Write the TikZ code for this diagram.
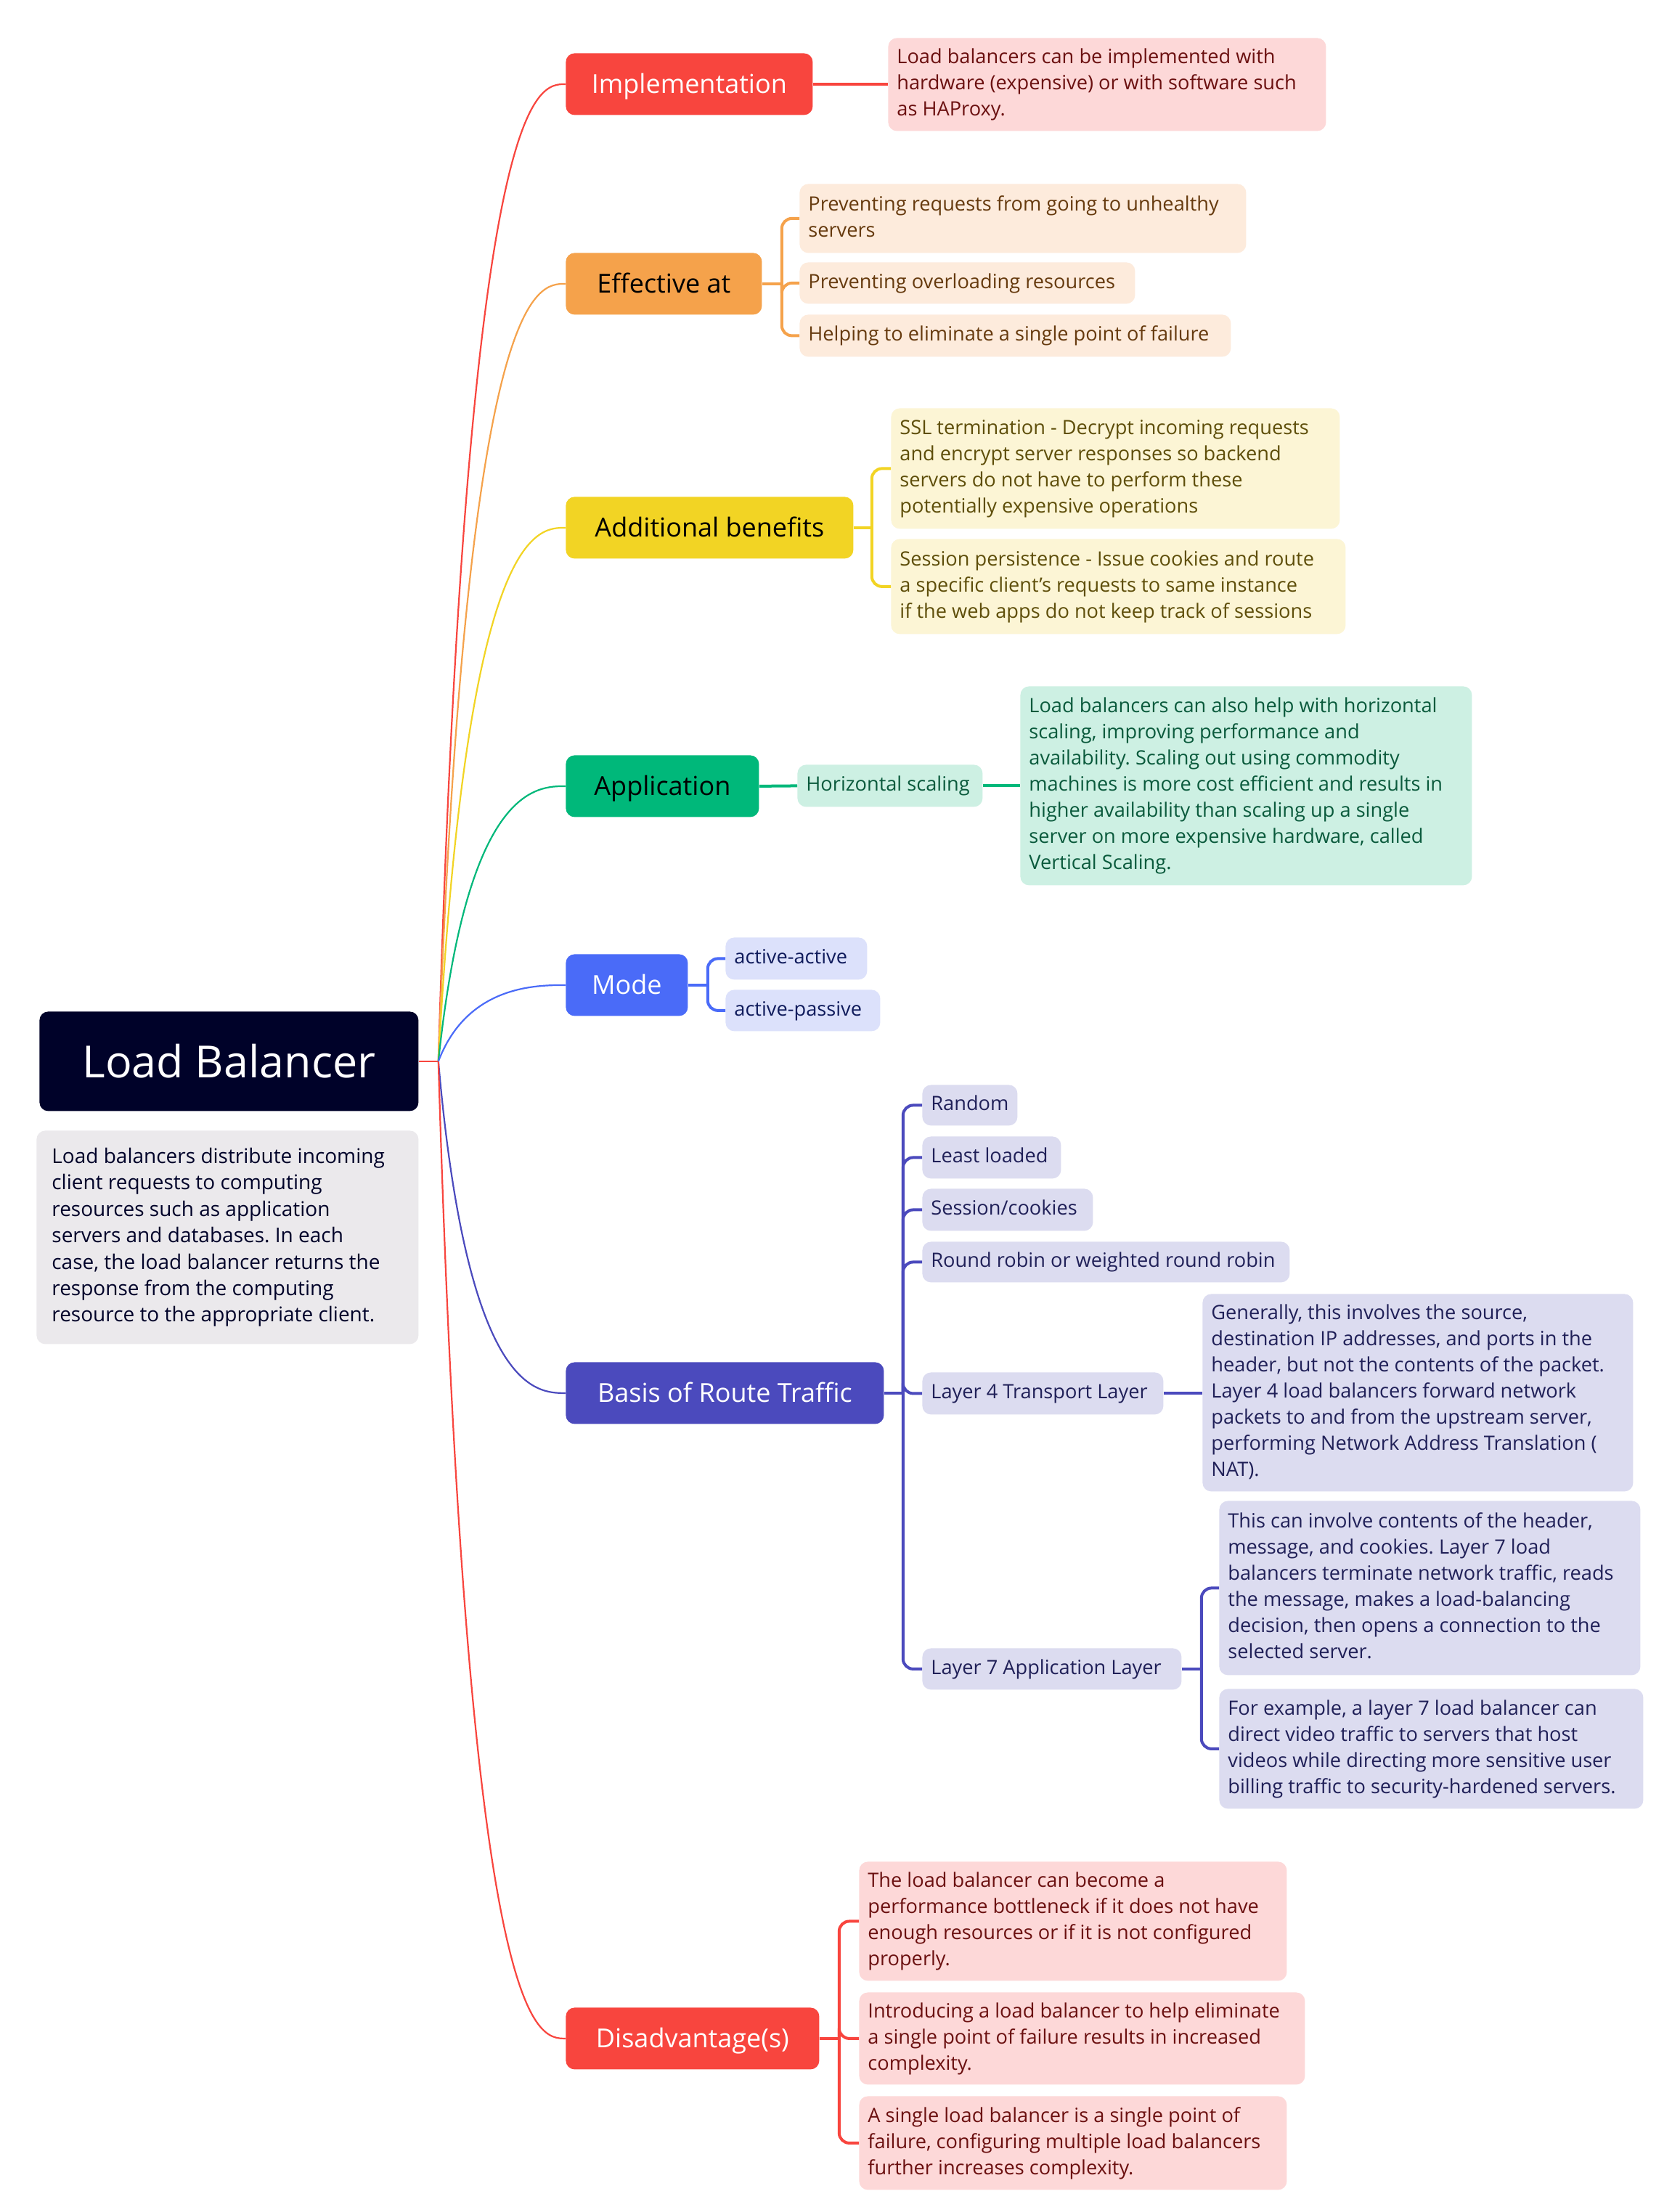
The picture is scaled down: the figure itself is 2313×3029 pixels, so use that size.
\documentclass[tikz,border=0pt]{standalone}
\usepackage{fontspec}
\setmainfont{Open Sans}
\usetikzlibrary{calc}
\frenchspacing
\definecolor{cRoot}{HTML}{000229}
\definecolor{cDesc}{HTML}{EBE9EC}
\definecolor{cRed}{HTML}{F8453E}
\definecolor{cRedL}{HTML}{FDD8D8}
\definecolor{cRedT}{HTML}{6B1010}
\definecolor{cOr}{HTML}{F5A24B}
\definecolor{cOrL}{HTML}{FDEBDC}
\definecolor{cOrT}{HTML}{663A0E}
\definecolor{cYe}{HTML}{F2D424}
\definecolor{cYeL}{HTML}{FCF5D5}
\definecolor{cYeT}{HTML}{5E4E0A}
\definecolor{cGr}{HTML}{00B87A}
\definecolor{cGrL}{HTML}{CDF0E3}
\definecolor{cGrT}{HTML}{0A5A3C}
\definecolor{cBl}{HTML}{4A6BF8}
\definecolor{cBlL}{HTML}{DCE1FB}
\definecolor{cBlT}{HTML}{0F1B5C}
\definecolor{cIn}{HTML}{4B4ABD}
\definecolor{cInL}{HTML}{DCDCF0}
\definecolor{cInT}{HTML}{202058}
\newdimen\bxw
% #1 align letter, #2 name, #3 x, #4 y, #5 w, #6 h, #7 style, #8 text
\newcommand\bx[8]{\pgfmathsetlength\bxw{(#5-24)*0.5pt}%
  \node[#7,anchor=north west,minimum width={#5*0.5pt},minimum height={#6*0.5pt},inner xsep=6pt,inner ysep=0pt] (#2) at (#3,#4) {\makebox[\bxw][#1]{\begin{tabular}{@{}#1@{}}#8\end{tabular}}};}
\begin{document}
\begin{tikzpicture}[x=0.5pt,y=-0.5pt,
  topic/.style={rounded corners=6pt,font=\fontsize{18}{32}\selectfont},
  sub/.style={rounded corners=6pt,font=\fontsize{13.6}{18}\selectfont},
  curve/.style={line width=1.1pt},
  brk/.style={line width=2pt,rounded corners=7pt}]
\fill[white] (0,0) rectangle (2313,3029);
\useasboundingbox (0,0) rectangle (2313,3029);

% root and description
\node[fill=cRoot,text=white,rounded corners=6pt,anchor=north west,minimum width=261pt,minimum height=68.5pt,font=\fontsize{30.5}{36}\selectfont] (root) at (54,1393) {Load Balancer};
\pgfmathsetlength\bxw{(526-42)*0.5pt}
\node[fill=cDesc,text=cRoot,rounded corners=6pt,anchor=north west,minimum width=263pt,minimum height=147pt,inner xsep=10.5pt,inner ysep=0pt,font=\fontsize{14}{18.2}\selectfont] (desc) at (50,1557) {\makebox[\bxw][l]{\begin{tabular}{@{}l@{}}Load balancers distribute incoming\\client requests to computing\\resources such as application\\servers and databases. In each\\case, the load balancer returns the\\response from the computing\\resource to the appropriate client.\end{tabular}}};

% main topics
\bx{c}{impl}{779}{73}{340}{85}{topic,fill=cRed,text=white}{Implementation}
\bx{c}{eff}{779}{348}{270}{85}{topic,fill=cOr,text=black}{Effective at}
\bx{c}{add}{779}{684}{396}{85}{topic,fill=cYe,text=black}{Additional benefits}
\bx{c}{app}{779}{1040}{266}{85}{topic,fill=cGr,text=black}{Application}
\bx{c}{mode}{779}{1314}{168}{85}{topic,fill=cBl,text=white}{Mode}
\bx{c}{basis}{779}{1876}{438}{85}{topic,fill=cIn,text=white}{Basis of Route Traffic}
\bx{c}{dis}{779}{2765}{349}{85}{topic,fill=cRed,text=white}{Disadvantage(s)}

% implementation
\bx{l}{impld}{1223}{52}{603}{128}{sub,fill=cRedL,text=cRedT}{Load balancers can be implemented with\\hardware (expensive) or with software such\\as HAProxy.}
% effective at
\bx{l}{effa}{1101}{253}{615}{95}{sub,fill=cOrL,text=cOrT}{Preventing requests from going to unhealthy\\servers}
\bx{l}{effb}{1101}{361}{462}{57}{sub,fill=cOrL,text=cOrT}{Preventing overloading resources}
\bx{l}{effc}{1101}{433}{594}{58}{sub,fill=cOrL,text=cOrT}{Helping to eliminate a single point of failure}
% additional benefits
\bx{l}{adda}{1227}{562}{618}{166}{sub,fill=cYeL,text=cYeT}{SSL termination - Decrypt incoming requests\\and encrypt server responses so backend\\servers do not have to perform these\\potentially expensive operations}
\bx{l}{addb}{1227}{742}{626}{131}{sub,fill=cYeL,text=cYeT}{Session persistence - Issue cookies and route\\a specific client's requests to same instance\\if the web apps do not keep track of sessions}
% application
\bx{l}{hs}{1098}{1053}{255}{58}{sub,fill=cGrL,text=cGrT}{Horizontal scaling}
\bx{l}{hsd}{1405}{945}{622}{274}{sub,fill=cGrL,text=cGrT}{Load balancers can also help with horizontal\\scaling, improving performance and\\availability. Scaling out using commodity\\machines is more cost efficient and results in\\higher availability than scaling up a single\\server on more expensive hardware, called\\Vertical Scaling.}
% mode
\bx{l}{ma}{999}{1291}{195}{58}{sub,fill=cBlL,text=cBlT}{active-active}
\bx{l}{mp}{999}{1363}{213}{57}{sub,fill=cBlL,text=cBlT}{active-passive}
% basis of route traffic
\bx{l}{ra}{1270}{1494}{131}{56}{sub,fill=cInL,text=cInT}{Random}
\bx{l}{rb}{1270}{1565}{191}{58}{sub,fill=cInL,text=cInT}{Least loaded}
\bx{l}{rc}{1270}{1637}{235}{58}{sub,fill=cInL,text=cInT}{Session/cookies}
\bx{l}{rd}{1270}{1710}{506}{56}{sub,fill=cInL,text=cInT}{Round robin or weighted round robin}
\bx{l}{rl4}{1270}{1890}{332}{58}{sub,fill=cInL,text=cInT}{Layer 4 Transport Layer}
\bx{l}{rl7}{1270}{2270}{357}{57}{sub,fill=cInL,text=cInT}{Layer 7 Application Layer}
\bx{l}{lfd}{1656}{1782}{593}{272}{sub,fill=cInL,text=cInT}{Generally, this involves the source,\\destination IP addresses, and ports in the\\header, but not the contents of the packet.\\Layer 4 load balancers forward network\\packets to and from the upstream server,\\performing Network Address Translation (\\NAT).}
\bx{l}{lsa}{1679}{2067}{580}{240}{sub,fill=cInL,text=cInT}{This can involve contents of the header,\\message, and cookies. Layer 7 load\\balancers terminate network traffic, reads\\the message, makes a load-balancing\\decision, then opens a connection to the\\selected server.}
\bx{l}{lsb}{1679}{2326}{584}{165}{sub,fill=cInL,text=cInT}{For example, a layer 7 load balancer can\\direct video traffic to servers that host\\videos while directing more sensitive user\\billing traffic to security-hardened servers.}
% disadvantages
\bx{l}{da}{1183}{2564}{589}{164}{sub,fill=cRedL,text=cRedT}{The load balancer can become a\\performance bottleneck if it does not have\\enough resources or if it is not configured\\properly.}
\bx{l}{db}{1183}{2744}{614}{127}{sub,fill=cRedL,text=cRedT}{Introducing a load balancer to help eliminate\\a single point of failure results in increased\\complexity.}
\bx{l}{dc}{1183}{2887}{589}{129}{sub,fill=cRedL,text=cRedT}{A single load balancer is a single point of\\failure, configuring multiple load balancers\\further increases complexity.}

% root connectors
\path (root.east) ++(27,0) coordinate (J);
\draw[curve,cRed] (root.east) -- (J);
\foreach \t/\c in {impl/cRed,eff/cOr,add/cYe,app/cGr,mode/cBl,basis/cIn,dis/cRed}{
  \draw[curve,\c] (J) .. controls ([xshift=20pt]J |- \t.west) and ([xshift=-20pt]\t.west) .. (\t.west);
}

% implementation
\draw[brk,cRed] (impl.east) -- (impl.east -| impld.west);
% effective
\path (eff.east) ++(27,0) coordinate (bE);
\draw[brk,cOr] (eff.east) -- (bE);
\foreach \n in {effa,effb,effc} \draw[brk,cOr] (bE) |- (\n.west);
% additional
\path (add.east) ++(25,0) coordinate (bA);
\draw[brk,cYe] (add.east) -- (bA);
\foreach \n in {adda,addb} \draw[brk,cYe] (bA) |- (\n.west);
% application
\draw[brk,cGr] (app.east) -- (hs.west);
\draw[brk,cGr] (hs.east) -- (hs.east -| hsd.west);
% mode
\path (mode.east) ++(27,0) coordinate (bM);
\draw[brk,cBl] (mode.east) -- (bM);
\foreach \n in {ma,mp} \draw[brk,cBl] (bM) |- (\n.west);
% basis
\path (basis.east) ++(26,0) coordinate (bB);
\draw[brk,cIn] (basis.east) -- (bB);
\foreach \n in {ra,rb,rc,rd,rl4,rl7} \draw[brk,cIn] (bB) |- (\n.west);
\draw[brk,cIn] (rl4.east) -- (rl4.east -| lfd.west);
\path (rl7.east) ++(27,0) coordinate (b7);
\draw[brk,cIn] (rl7.east) -- (b7);
\foreach \n in {lsa,lsb} \draw[brk,cIn] (b7) |- (\n.west);
% disadvantages
\path (dis.east) ++(27,0) coordinate (bD);
\draw[brk,cRed] (dis.east) -- (bD);
\foreach \n in {da,db,dc} \draw[brk,cRed] (bD) |- (\n.west);
\end{tikzpicture}
\end{document}
